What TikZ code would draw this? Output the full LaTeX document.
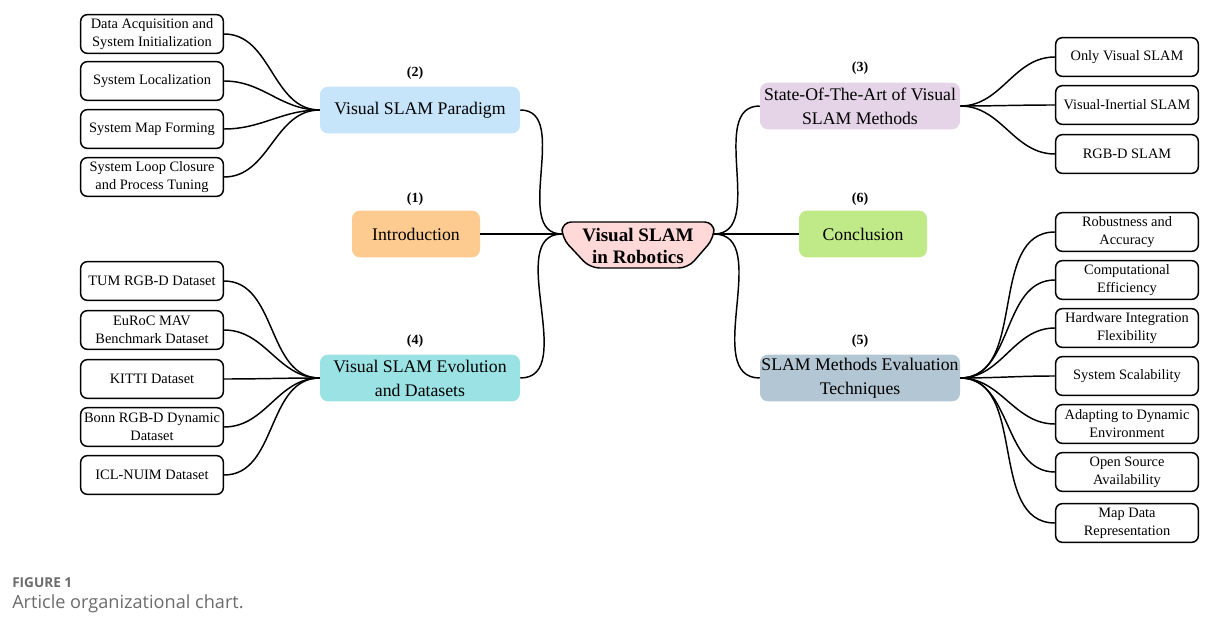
\documentclass[tikz,border=0pt]{standalone}
\usepackage{fontspec}
\setmainfont{Liberation Serif}
\newfontfamily\capfont{Open Sans}
\definecolor{paradigm}{HTML}{C6E4FA}
\definecolor{intro}{HTML}{FDCB8F}
\definecolor{evolution}{HTML}{9AE2E4}
\definecolor{stateart}{HTML}{E5D4E8}
\definecolor{conclusion}{HTML}{C0EA88}
\definecolor{evaluation}{HTML}{B3C6D3}
\definecolor{rootpink}{HTML}{FFD8D8}
\definecolor{capgray}{HTML}{6B6B6B}
\begin{document}
\begin{tikzpicture}[x=0.75pt,y=-0.75pt,
  leaf/.style={draw,line width=1.1pt,rounded corners=5pt,minimum width=107pt,
    minimum height=29pt,align=center,inner sep=1pt,font=\fontsize{10.8}{13.5}\selectfont},
  topic/.style={rounded corners=6pt,minimum width=150pt,minimum height=35pt,
    align=center,inner sep=1pt,font=\fontsize{13.3}{18}\selectfont},
  num/.style={font=\bfseries\fontsize{10.5}{12}\selectfont},
  link/.style={line width=1.1pt,out=0,in=180}]
  \useasboundingbox (0,0) rectangle (1229,627);

  \filldraw[fill=rootpink,line width=1.1pt,rounded corners=7pt]
    (562,222) -- (714,222) -- (714,238) -- (688,268) -- (590,268) -- (562,238) -- cycle;
  \node[font=\bfseries\fontsize{14.3}{17}\selectfont,align=center] (root) at (638,246)
    {Visual SLAM\\in Robotics};
  \coordinate (rootL) at (562,234);
  \coordinate (rootR) at (714,234);

  \node[topic,fill=paradigm] (paradigm) at (420,110) {Visual SLAM Paradigm};
  \node[topic,fill=intro,minimum width=96pt] (intro) at (416,234) {Introduction};
  \node[topic,fill=evolution] (evolution) at (420,378) {Visual SLAM Evolution\\and Datasets};
  \node[topic,fill=stateart] (stateart) at (860,106) {State-Of-The-Art of Visual\\SLAM Methods};
  \node[topic,fill=conclusion,minimum width=96pt] (conclusion) at (863,234) {Conclusion};
  \node[topic,fill=evaluation] (evaluation) at (860,378) {SLAM Methods Evaluation\\Techniques};

  \node[num] at (415,73) {(2)};
  \node[num] at (415,199) {(1)};
  \node[num] at (415,341) {(4)};
  \node[num] at (860,68) {(3)};
  \node[num] at (860,199) {(6)};
  \node[num] at (860,341) {(5)};

  \node[leaf] (acq) at (152,34) {Data Acquisition and\\System Initialization};
  \node[leaf] (loc) at (152,81) {System Localization};
  \node[leaf] (map) at (152,129) {System Map Forming};
  \node[leaf] (loop) at (152,177) {System Loop Closure\\and Process Tuning};

  \node[leaf] (tum) at (152,281) {TUM RGB-D Dataset};
  \node[leaf] (euroc) at (152,330) {EuRoC MAV\\Benchmark Dataset};
  \node[leaf] (kitti) at (152,379) {KITTI Dataset};
  \node[leaf] (bonn) at (152,427) {Bonn RGB-D Dynamic\\Dataset};
  \node[leaf] (icl) at (152,475) {ICL-NUIM Dataset};

  \node[leaf] (onlyvis) at (1127,57) {Only Visual SLAM};
  \node[leaf] (visinert) at (1127,105) {Visual-Inertial SLAM};
  \node[leaf] (rgbd) at (1127,154) {RGB-D SLAM};

  \node[leaf] (robust) at (1127,232) {Robustness and\\Accuracy};
  \node[leaf] (comp) at (1127,280) {Computational\\Efficiency};
  \node[leaf] (hard) at (1127,328) {Hardware Integration\\Flexibility};
  \node[leaf] (scal) at (1127,376) {System Scalability};
  \node[leaf] (adapt) at (1127,424) {Adapting to Dynamic\\Environment};
  \node[leaf] (open) at (1127,472) {Open Source\\Availability};
  \node[leaf] (mapdata) at (1127,523) {Map Data\\Representation};

  \draw[link] (paradigm.east) to (rootL);
  \draw[link] (intro.east) to (rootL);
  \draw[link] (evolution.east) to (rootL);
  \draw[link] (rootR) to (stateart.west);
  \draw[link] (rootR) to (conclusion.west);
  \draw[link] (rootR) to (evaluation.west);

  \foreach \n in {acq,loc,map,loop}
    \draw[link] (\n.east) to (paradigm.west);
  \foreach \n in {tum,euroc,kitti,bonn,icl}
    \draw[link] (\n.east) to (evolution.west);
  \foreach \n in {onlyvis,visinert,rgbd}
    \draw[link] (stateart.east) to (\n.west);
  \foreach \n in {robust,comp,hard,scal,adapt,open,mapdata}
    \draw[link] (evaluation.east) to (\n.west);

  \node[anchor=base west,inner sep=0pt,text=capgray,font=\capfont\bfseries\fontsize{10.2}{11}\selectfont]
    (figno) at (12,587) {FIGURE 1};
  \node[anchor=base west,inner sep=0pt,text=capgray,font=\capfont\fontsize{13.6}{15}\selectfont]
    (caption) at (12,608) {Article organizational chart.};
\end{tikzpicture}
\end{document}
